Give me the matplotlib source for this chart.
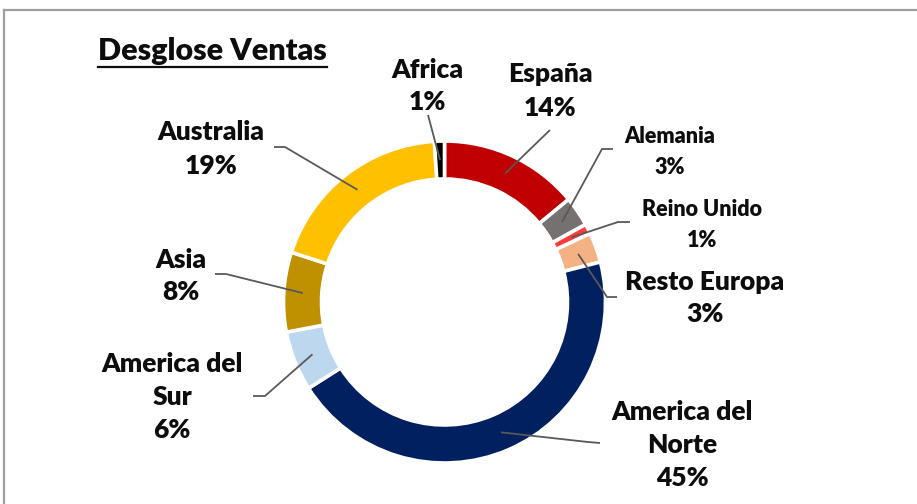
import matplotlib.pyplot as plt
from matplotlib.lines import Line2D
import numpy as np

plt.rcParams['font.family'] = ['Lato', 'DejaVu Sans']

W, H = 917, 504

regions = ['España', 'Alemania', 'Reino Unido', 'Resto Europa',
           'America del\nNorte', 'America del\nSur', 'Asia', 'Australia', 'Africa']
shares = [14, 3, 1, 3, 45, 6, 8, 19, 1]
colors = ['#C00000', '#767171', '#FF3B3B', '#F4B183',
          '#002060', '#BDD7EE', '#BF9000', '#FFC000', '#000000']

# label layout in pixel coords (x, y from top): text centre, leader start, elbow
label_pos = [(550, 91), (670, 152), (702, 225), (705, 298),
             (682, 445), (172, 397), (181, 276), (211, 149), (427, 86)]
leader_start = [(550, 130), (613, 149), (630, 222), (617, 297),
                (600, 443), (253, 396), (215, 274), (274, 147), (428, 115)]
leader_elbow = [None, (602, 149), (618, 222), (607, 297),
                (588, 442), (265, 396), (226, 274), (285, 147), None]
small = {'Alemania', 'Reino Unido'}

cx, cy = 444.5, H - 302
R, ring = 161, 38


def Y(py):
    return H - py


fig = plt.figure(figsize=(W / 100, H / 100), dpi=100)
ax = fig.add_axes([0, 0, 1, 1])
wedges, _ = ax.pie(shares, colors=colors, startangle=90, counterclock=False,
                   center=(cx, cy), radius=R,
                   wedgeprops=dict(width=ring, edgecolor='white', linewidth=2.6))
ax.set_xlim(0, W)
ax.set_ylim(0, H)
ax.set_aspect('auto')
ax.axis('off')

rm = R - ring / 2
for w, name, share, pos, st, el in zip(wedges, regions, shares, label_pos,
                                       leader_start, leader_elbow):
    ang = np.deg2rad((w.theta1 + w.theta2) / 2)
    end = (cx + rm * np.cos(ang), cy + rm * np.sin(ang))
    pts = [(st[0], Y(st[1]))]
    if el is not None:
        pts.append((el[0], Y(el[1])))
    pts.append(end)
    xs, ys = zip(*pts)
    ax.plot(xs, ys, color='#595959', lw=1.3, solid_capstyle='butt', zorder=3)
    if name in small:
        fs, ls = 15.5, 1.6
    else:
        fs, ls = 19, 1.45
    ax.text(pos[0], Y(pos[1]), f'{name}\n{share}%', ha='center', va='center',
            fontsize=fs, fontweight='heavy', color='#0D0D0D',
            linespacing=ls, zorder=4)

title = ax.text(98, Y(51), 'Desglose Ventas', ha='left', va='center',
                fontsize=22, fontweight='heavy', color='#0D0D0D')
fig.canvas.draw()
bb = title.get_window_extent()
ax.plot([bb.x0, bb.x1], [Y(67), Y(67)], color='#0D0D0D', lw=1.6)

# chart frame (only top and left edges visible)
fig.add_artist(Line2D([4 / W, 1], [1 - 9.5 / H, 1 - 9.5 / H],
                      color='#9E9E9E', lw=1.6))
fig.add_artist(Line2D([4 / W, 4 / W], [0, 1 - 9.5 / H],
                      color='#9E9E9E', lw=1.6))

fig.savefig('out.png', dpi=100, facecolor='white')
